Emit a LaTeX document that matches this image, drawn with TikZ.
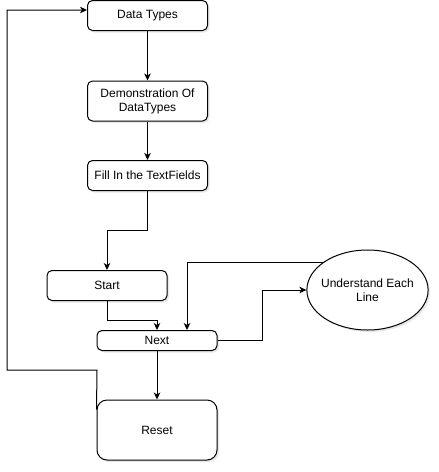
\documentclass[tikz,border=0pt]{standalone}
\usepackage{fontspec}
\setmainfont{Liberation Sans}
\usetikzlibrary{arrows.meta,shadows,shapes.geometric,calc}
\begin{document}
\begin{tikzpicture}[x=1pt,y=-1pt,
  box/.style={draw=black,line width=1pt,fill=white,rounded corners=5pt,
    minimum width=120pt,inner sep=2pt,align=center,
    drop shadow={shadow xshift=2pt,shadow yshift=-2pt,opacity=0.18}},
  oval/.style={draw=black,line width=1pt,fill=white,ellipse,
    minimum width=121pt,minimum height=80pt,inner xsep=-3.5pt,inner ysep=0pt,align=center,
    drop shadow={shadow xshift=2pt,shadow yshift=-2pt,opacity=0.18}},
  arr/.style={draw=black,line width=1pt,-{Stealth[length=7pt,width=6.5pt,inset=2pt]}},
  lbl/.style={font=\fontsize{12}{14}\selectfont}]
  \useasboundingbox (0,0) rectangle (439,472);

  % process steps
  \node[box,lbl,minimum height=30pt] (dt)    at (147.5,15.5)  {Data Types};
  \node[box,lbl,minimum height=40pt] (demo)  at (147.5,101)   {Demonstration Of\\DataTypes};
  \node[box,lbl,minimum height=30pt] (fill)  at (147.5,175.5) {Fill In the TextFields};
  \node[box,lbl,minimum height=30pt] (start) at (107,285.5)   {Start};
  \node[box,lbl,minimum height=20pt] (next)  at (157,340.5)   {Next};
  \node[box,lbl,minimum height=60pt,rounded corners=10pt] (reset) at (157,430) {Reset};
  \node[oval,lbl] (ue) at (367.5,290) {Understand Each\\Line};

  % helper points on the ellipse border and the return loop
  \coordinate (uetl) at ($(ue.center)+(-43.3,-28)$);
  \coordinate (resetl) at ($(reset.north west)+(0,10)$);
  \coordinate (loopbr) at (97,370);
  \coordinate (looptl) at (7,10);

  % main flow
  \draw[arr] (dt.south) -- (demo.north);
  \draw[arr] (demo.south) -- (fill.north);
  \draw[arr] (fill.south) -- (fill.south |- 0,230) -| (start.north);
  \draw[arr] (start.south) -- (start.south |- 0,320) -| (next.north);
  \draw[arr] (next.south) -- (reset.north);

  % loop through the ellipse
  \draw[arr] (next.east) -- (262,340.5) |- (ue.west);
  \draw[arr] (uetl) -| ($(next.north)+(30,0)$);

  % return from Reset to the first step
  \draw[arr] (resetl) -- (loopbr) -| (looptl) -- (dt.west |- looptl);
\end{tikzpicture}
\end{document}
